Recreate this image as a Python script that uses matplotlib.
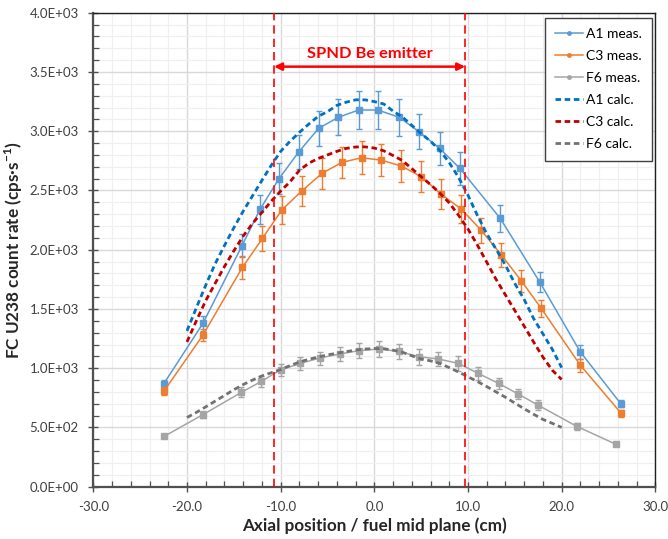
import matplotlib
matplotlib.use("Agg")
import matplotlib.pyplot as plt
from matplotlib.ticker import MultipleLocator, FuncFormatter
from matplotlib.lines import Line2D

plt.rcParams['font.family'] = ['Lato', 'DejaVu Sans']
plt.rcParams['mathtext.fontset'] = 'custom'
plt.rcParams['mathtext.rm'] = 'Lato'
plt.rcParams['mathtext.bf'] = 'Lato:bold'

# ---------------- data ----------------
a1_meas_x = [-22.46, -18.30, -14.13, -12.21, -10.18, -8.05, -5.95, -3.85, -1.67, 0.38,
             2.67, 4.76, 6.97, 9.14, 13.45, 17.65, 21.99, 26.30]
a1_meas_y = [871, 1378, 2033, 2340, 2599, 2827, 3024, 3117, 3179, 3179,
             3117, 2996, 2855, 2686, 2264, 1729, 1138, 702]
a1_meas_err = [28, 60, 96, 120, 131, 145, 149, 152, 163, 159,
               158, 150, 141, 137, 113, 83, 62, 31]

c3_meas_x = [-22.46, -18.30, -14.09, -11.95, -9.86, -7.73, -5.59, -3.46, -1.36, 0.75,
             2.88, 5.02, 7.15, 9.29, 11.42, 13.56, 15.70, 17.83, 21.99, 26.37]
c3_meas_y = [806, 1279, 1850, 2095, 2337, 2497, 2644, 2737, 2776, 2756,
             2706, 2616, 2467, 2343, 2163, 1956, 1737, 1504, 1026, 618]
c3_meas_err = [35, 53, 94, 106, 118, 124, 129, 134, 141, 136,
               138, 131, 127, 120, 106, 98, 94, 73, 56, 28]

f6_meas_x = [-22.46, -18.30, -14.20, -12.06, -10.00, -7.90, -5.84, -3.70, -1.64, 0.50,
             2.60, 4.76, 6.83, 8.97, 11.10, 13.27, 15.37, 17.47, 21.63, 25.83]
f6_meas_y = [424, 608, 796, 889, 987, 1040, 1086, 1120, 1148, 1162,
             1142, 1097, 1078, 1041, 956, 872, 782, 689, 509, 357]
f6_meas_err = [15, 32, 42, 49, 49, 53, 55, 62, 65, 67,
               65, 66, 63, 62, 53, 49, 45, 44, 31, 12]

calc_x = [-20, -19, -18, -17, -16, -15, -14, -13, -12, -11, -10, -9, -8, -7, -6, -5, -4,
          -3, -2, -1, 0, 1, 2, 3, 4, 5, 6, 7, 8, 9, 10, 11, 12, 13, 14, 15, 16, 17,
          18, 19, 20]
a1_calc_y = [1315, 1510, 1700, 1880, 2035, 2185, 2325, 2455, 2585, 2712, 2830, 2915, 2990,
             3060, 3125, 3165, 3218, 3245, 3265, 3265, 3250, 3230, 3170, 3120, 3050, 2980,
             2915, 2838, 2735, 2610, 2460, 2290, 2135, 2005, 1870, 1715, 1580, 1420, 1290,
             1160, 1005]
c3_calc_y = [1222, 1400, 1570, 1715, 1858, 1990, 2115, 2222, 2315, 2410, 2495, 2573, 2670,
             2730, 2770, 2800, 2830, 2855, 2867, 2868, 2858, 2835, 2795, 2752, 2685, 2616,
             2550, 2477, 2395, 2290, 2175, 2040, 1895, 1750, 1618, 1487, 1355, 1222, 1094,
             983, 905]
f6_calc_y = [584, 627, 674, 722, 770, 818, 862, 900, 935, 962, 989, 1022, 1052, 1075, 1094,
             1112, 1127, 1140, 1153, 1162, 1166, 1165, 1152, 1135, 1105, 1078, 1062, 1040,
             1005, 968, 928, 888, 845, 800, 755, 706, 658, 612, 568, 535, 500]

emitter_limits = [-10.7, 9.7]
emitter_label = "SPND Be emitter"
emitter_arrow_y = 3545
emitter_text_y = 3650

series_labels = ["A1 meas.", "C3 meas.", "F6 meas.", "A1 calc.", "C3 calc.", "F6 calc."]

# ---------------- styles ----------------
meas_colors = ['#5B9BD5', '#ED7D31', '#A5A5A5']
calc_colors = ['#0070C0', '#C00000', '#767171']
calc_dash = (0, (2.0, 1.3))

fig = plt.figure(figsize=(6.68, 5.39), dpi=100)
ax = fig.add_axes([0.1397, 0.097, 0.8413, 0.8794])

ax.set_xlim(-30, 30)
ax.set_ylim(0, 4000)
ax.xaxis.set_major_locator(MultipleLocator(10))
ax.xaxis.set_minor_locator(MultipleLocator(2))
ax.yaxis.set_major_locator(MultipleLocator(500))
ax.yaxis.set_minor_locator(MultipleLocator(100))
ax.xaxis.set_major_formatter(FuncFormatter(lambda v, p: f"{v:.1f}"))
ax.yaxis.set_major_formatter(FuncFormatter(lambda v, p: f"{v:.1E}"))

ax.set_axisbelow(True)
ax.grid(which='minor', color='#F0F0F0', lw=0.9, zorder=0)
ax.grid(which='major', color='#D9D9D9', lw=1.0, zorder=0)

for s in ['left', 'bottom']:
    ax.spines[s].set_color('#505050')
    ax.spines[s].set_linewidth(1.6)
for s in ['top', 'right']:
    ax.spines[s].set_color('#202020')
    ax.spines[s].set_linewidth(1.0)

ax.tick_params(which='major', direction='inout', length=7, width=1.0, color='#505050',
               labelsize=9.5, labelcolor='#404040')
ax.tick_params(axis='y', which='major', pad=7)
ax.tick_params(axis='x', which='major', pad=7)
ax.tick_params(which='minor', direction='in', length=4, width=0.9, color='#505050')

# measured series
meas = [(a1_meas_x, a1_meas_y, a1_meas_err), (c3_meas_x, c3_meas_y, c3_meas_err),
        (f6_meas_x, f6_meas_y, f6_meas_err)]
for (x, y, e), c in zip(meas, meas_colors):
    ax.errorbar(x, y, yerr=e, fmt='none', ecolor=c, elinewidth=1.0, capsize=2.5,
                capthick=1.0, zorder=3)
    ax.plot(x, y, '-', color=c, lw=1.1, marker='s', ms=4, zorder=3)

# calculated series
for y, c in zip([a1_calc_y, c3_calc_y, f6_calc_y], calc_colors):
    ax.plot(calc_x, y, color=c, lw=2.0, ls=calc_dash, zorder=4)

# emitter region
for xv in emitter_limits:
    ax.axvline(xv, color='#FF0000', lw=1.2, ls=(0, (5, 3)), zorder=5)
ax.annotate('', xy=(emitter_limits[1], emitter_arrow_y),
            xytext=(emitter_limits[0], emitter_arrow_y),
            arrowprops=dict(arrowstyle='<|-|>', color='#FF0000', lw=1.8,
                            mutation_scale=11, shrinkA=0, shrinkB=0), zorder=6)
ax.text(sum(emitter_limits) / 2, emitter_text_y, emitter_label, color='#FF0000',
        fontsize=11.8, fontweight='bold', ha='center', va='center', zorder=6)

ax.set_xlabel("Axial position / fuel mid plane (cm)", fontsize=12.3, fontweight='bold',
              color='#262626')
ax.set_ylabel(r"FC U238 count rate (cps·s$^{\mathbf{-1}}$)", fontsize=12.3,
              fontweight='bold', color='#262626')
ax.xaxis.set_label_coords(0.5, -0.064)
ax.yaxis.set_label_coords(-0.122, 0.5)

handles = [Line2D([], [], color=c, lw=1.1, marker='o', ms=2.5) for c in meas_colors]
handles += [Line2D([], [], color=c, lw=2.0, ls=calc_dash) for c in calc_colors]
leg = ax.legend(handles, series_labels, loc='upper right', bbox_to_anchor=(0.994, 0.989),
                borderaxespad=0, fontsize=10, frameon=True, fancybox=False,
                edgecolor='#404040', framealpha=1, labelspacing=0.72, handlelength=2.0,
                handletextpad=0.2, borderpad=0.75)
leg.get_frame().set_linewidth(1.0)
leg.set_zorder(10)

fig.savefig("out.png", dpi=100)
